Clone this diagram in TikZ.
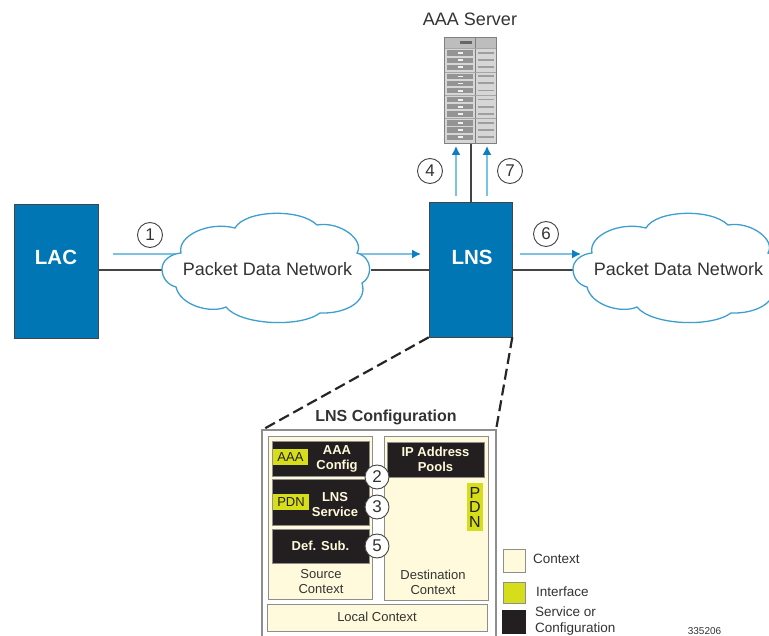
\documentclass[tikz,border=0pt]{standalone}
\usepackage{fontspec}
\setmainfont{Liberation Sans}
\usetikzlibrary{arrows.meta}
\definecolor{ciscoblue}{HTML}{0076B5}
\definecolor{skyline}{HTML}{7CC3E3}
\definecolor{tipblue}{HTML}{0B7FBF}
\definecolor{cloudline}{HTML}{3E9FCF}
\definecolor{inkline}{HTML}{444444}
\definecolor{ctxfill}{HTML}{FFFADB}
\definecolor{ifacefill}{HTML}{D6DE1C}
\definecolor{svcfill}{HTML}{231F20}
\definecolor{panelgray}{HTML}{8E8E8E}
\definecolor{labelink}{HTML}{333333}
\tikzset{
  bluebox/.style={draw=inkline,line width=0.6pt,fill=ciscoblue,inner sep=0pt},
  boxtitle/.style={text=white,font=\bfseries\fontsize{20.5}{22}\selectfont,inner sep=0pt},
  netline/.style={draw=inkline,line width=2pt},
  flow/.style={draw=skyline,line width=1.5pt,-{Latex[length=9pt,width=9pt,color=tipblue]}},
  flowplain/.style={draw=skyline,line width=1.5pt},
  stepnum/.style={circle,draw=inkline,fill=white,line width=0.9pt,minimum size=25pt,inner sep=0pt,text=labelink,font=\fontsize{17}{17}\selectfont},
  cloudshape/.style={draw=cloudline,fill=white,line width=1.3pt},
  cloudtext/.style={text=labelink,font=\fontsize{18}{20}\selectfont,inner sep=0pt},
  ctxbox/.style={draw=panelgray,fill=ctxfill,line width=1pt,inner sep=0pt},
  svcbox/.style={draw=panelgray,fill=svcfill,line width=0.6pt,text=ctxfill,inner sep=0pt,font=\bfseries\fontsize{13}{15}\selectfont,align=center},
  ifacebox/.style={fill=ifacefill,draw=none,text=svcfill,inner sep=0pt,font=\fontsize{13}{15}\selectfont},
  ctxlabel/.style={text=labelink,font=\fontsize{13}{15}\selectfont,align=center,inner sep=0pt},
  legendlabel/.style={text=labelink,font=\fontsize{13.5}{16}\selectfont,align=left,inner sep=0pt,anchor=west},
  zoomedge/.style={draw=black!85,line width=2.2pt,dash pattern=on 11pt off 5pt}
}
\newcommand{\cloudoutline}{
  (162,269) .. controls (162,261) and (170,254) .. (181,253)
  .. controls (177,236) and (208,221) .. (235,228)
  .. controls (245,210) and (300,208) .. (317,225)
  .. controls (340,221) and (365,240) .. (357,253)
  .. controls (374,258) and (372,278) .. (362,283)
  .. controls (368,302) and (345,314) .. (320,313)
  .. controls (300,328) and (240,325) .. (226,307)
  .. controls (210,314) and (180,305) .. (176,287)
  .. controls (168,285) and (162,278) .. (162,269) -- cycle
}
\begin{document}
\begin{tikzpicture}[x=1pt,y=-1pt]
\useasboundingbox (0,0) rectangle (769,636);
\clip (0,0) rectangle (769,636);

% main boxes
\node[bluebox,minimum width=84pt,minimum height=134pt] (LAC) at (56,271) {};
\node[bluebox,minimum width=83pt,minimum height=135pt] (LNS) at (470.5,269.5) {};
\node[boxtitle] (LACt) at (56,257) {LAC};
\node[boxtitle] (LNSt) at (472,257) {LNS};
\node[minimum width=53pt,minimum height=107pt,inner sep=0pt,fill=none,draw=none] (server) at (470.5,90.5) {};

% cloud anchors
\coordinate (c1w) at (162,270);
\coordinate (c1e) at (371,270);
\coordinate (c2w) at (573,270);

% connectors
\draw[netline] (LAC.east |- c1w) -- (c1w);
\draw[netline] (c1e) -- (LNS.west |- c1e);
\draw[netline] (LNS.east |- c2w) -- (c2w);
\draw[netline] (LNS.north) -- (server.south);

% blue flows behind the clouds
\coordinate (f1a) at (113,254);
\coordinate (f1b) at (185,254);
\coordinate (f1c) at (355,254);
\coordinate (f1d) at (421,254);
\coordinate (f6a) at (520,254);
\coordinate (f6b) at (581,254);
\draw[flowplain] (f1a) -- (f1b);
\draw[flow] (f1c) -- (f1d);

% clouds
\path[cloudshape] \cloudoutline;
\begin{scope}[xshift=411pt]
\path[cloudshape] \cloudoutline;
\end{scope}
\draw[flow] (f6a) -- (f6b);
\node[cloudtext] (net1) at (267.5,269) {Packet Data Network};
\node[cloudtext] (net2) at (678.5,269) {Packet Data Network};

% server rack
\fill[black!50] (server.north west) rectangle (server.south east);
\fill[black!16] (445,38) rectangle (475,143);
\fill[black!16] (476,38) rectangle (496,143);
\fill[black!26] (445,38) rectangle (475,48);
\fill[black!26] (476,38) rectangle (496,48);
\fill[black!60] (460,41) rectangle (472,44);
\foreach \g in {0,1,2,3}{
  \foreach \r in {0,1,2}{
    \pgfmathsetmacro{\yy}{50.5+\g*23.3+\r*7.1}
    \fill[black!42] (447,\yy) rectangle (473,\yy+5.3);
    \fill[black!6] (458,\yy+1.8) rectangle (463,\yy+3.6);
    \fill[black!38] (478,\yy+1.6) rectangle (494,\yy+3.4);
  }
  \pgfmathsetmacro{\yb}{48.5+\g*23.3}
  \fill[black!35] (445,\yb) rectangle (496,\yb+0.9);
}

% upward flows
\coordinate (f4a) at (456,196);
\coordinate (f4b) at (456,146);
\coordinate (f7a) at (487,196);
\coordinate (f7b) at (487,146);
\draw[flow] (f4a) -- (f4b);
\draw[flow] (f7a) -- (f7b);

\node[text=labelink,font=\fontsize{18}{20}\selectfont,inner sep=0pt] (aaatitle) at (470,19) {AAA Server};

% step circles
\node[stepnum] (s1) at (150,235) {1};
\node[stepnum] (s4) at (430,171) {4};
\node[stepnum] (s7) at (510,171) {7};
\node[stepnum] (s6) at (546,234) {6};

% configuration panel
\node[font=\bfseries\fontsize{16}{18}\selectfont,text=labelink,inner sep=0pt] (cfgtitle) at (386,417) {LNS Configuration};
\coordinate (pnw) at (262,430);
\coordinate (pne) at (496,430);
\draw[zoomedge] (LNS.south west) -- (pnw);
\draw[zoomedge] (LNS.south east) -- (pne);
\draw[draw=panelgray,line width=1.2pt] (262,640) -- (pnw) -- (pne) -- (496,640);

\node[ctxbox,minimum width=104pt,minimum height=162pt] (srcctx) at (320,518) {};
\node[ctxbox,minimum width=104pt,minimum height=163pt] (dstctx) at (436,518.5) {};
\node[ctxbox,minimum width=220pt,minimum height=27pt] (localctx) at (377,617.5) {};
\node[ctxlabel] (locallabel) at (377,617) {Local Context};
\node[ctxlabel] (srclabel) at (321,582) {Source\\[0pt]Context};
\node[ctxlabel] (dstlabel) at (433,582) {Destination\\[0pt]Context};

\node[svcbox,minimum width=97pt,minimum height=35pt] (aaacfg) at (320.5,458.5) {};
\node[svcbox,minimum width=97pt,minimum height=46pt] (lnssvc) at (320.5,502) {};
\node[svcbox,minimum width=97pt,minimum height=34pt] (defsub) at (320.5,546) {Def. Sub.};
\node[svcbox,minimum width=97pt,minimum height=35pt] (ippools) at (435.5,459.5) {IP Address\\[0pt]Pools};
\node[svcbox,draw=none,fill=none] (aaacfgt) at (337,458.5) {AAA\\[0pt]Config};
\node[svcbox,draw=none,fill=none] (lnssvct) at (335,505) {LNS\\[0pt]Service};
\node[ifacebox,minimum width=35pt,minimum height=16pt] (ifaaa) at (290.5,457) {AAA};
\node[ifacebox,minimum width=36pt,minimum height=16pt] (ifpdn) at (291,502) {PDN};
\node[ifacebox,minimum width=16pt,minimum height=48pt,align=center,font=\fontsize{16}{15}\selectfont] (ifpdnv) at (475,507) {P\\[-0.5pt]D\\[-0.5pt]N};

\node[stepnum,minimum size=24pt] (s2) at (377,477) {2};
\node[stepnum,minimum size=24pt] (s3) at (377,507) {3};
\node[stepnum,minimum size=24pt] (s5) at (377,546) {5};

% legend
\node[ctxbox,minimum width=22pt,minimum height=23pt] (lgctx) at (514,560.5) {};
\node[ctxbox,fill=ifacefill,minimum width=22pt,minimum height=21pt] (lgif) at (514,592.5) {};
\node[fill=svcfill,minimum width=24pt,minimum height=24pt,inner sep=0pt] (lgsvc) at (514,622) {};
\node[legendlabel] (lgctxt) at (533,559) {Context};
\node[legendlabel] (lgift) at (536,592) {Interface};
\node[legendlabel] (lgsvct) at (535,621) {Service or\\[0pt]Configuration};
\node[font=\fontsize{10}{12}\selectfont,text=labelink,inner sep=0pt] (figid) at (704.5,631) {335206};
\end{tikzpicture}
\end{document}
